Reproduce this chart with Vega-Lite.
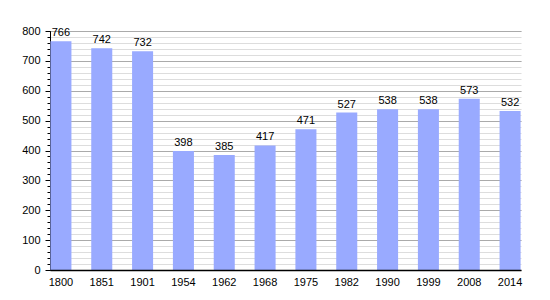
{
  "$schema": "https://vega.github.io/schema/vega-lite/v6.json",
  "width": 471,
  "height": 239,
  "autosize": "none",
  "padding": {"left": 50, "top": 31, "right": 29, "bottom": 30},
  "background": "white",
  "config": {
    "view": {"stroke": null},
    "font": "Liberation Sans",
    "axis": {"labelFont": "Liberation Sans", "labelFontSize": 11, "labelColor": "black"}
  },
  "data": {
    "values": [
      {"year": "1800", "pop": 766},
      {"year": "1851", "pop": 742},
      {"year": "1901", "pop": 732},
      {"year": "1954", "pop": 398},
      {"year": "1962", "pop": 385},
      {"year": "1968", "pop": 417},
      {"year": "1975", "pop": 471},
      {"year": "1982", "pop": 527},
      {"year": "1990", "pop": 538},
      {"year": "1999", "pop": 538},
      {"year": "2008", "pop": 573},
      {"year": "2014", "pop": 532}
    ]
  },
  "encoding": {
    "x": {
      "field": "year", "type": "ordinal", "title": null,
      "scale": {"paddingInner": 0.485, "paddingOuter": 0.01},
      "axis": {"labelAngle": 0, "ticks": false, "domainColor": "black", "domainWidth": 1.5, "labelPadding": 6, "grid": false, "zindex": 2}
    }
  },
  "layer": [
    {
      "mark": {"type": "bar", "color": "#99aaff"},
      "encoding": {
        "y": {
          "field": "pop", "type": "quantitative", "title": null,
          "scale": {"domain": [0, 800], "nice": false},
          "axis": {
            "values": [0,20,40,60,80,100,120,140,160,180,200,220,240,260,280,300,320,340,360,380,400,420,440,460,480,500,520,540,560,580,600,620,640,660,680,700,720,740,760,780,800],
            "labels": false, "domain": false, "grid": true, "gridColor": "#dddddd", "gridWidth": 1,
            "tickSize": 3, "tickColor": "black", "orient": "left"
          }
        }
      }
    },
    {
      "mark": {"type": "text", "baseline": "bottom", "dy": -3, "fontSize": 11, "font": "Liberation Sans", "color": "black"},
      "encoding": {
        "y": {
          "field": "pop", "type": "quantitative", "title": null,
          "scale": {"domain": [0, 800], "nice": false},
          "axis": {
            "values": [0,100,200,300,400,500,600,700,800],
            "grid": true, "gridColor": "#aaaaaa", "domainColor": "black",
            "tickSize": 5, "tickColor": "black", "orient": "left", "labelPadding": 5
          }
        },
        "text": {"field": "pop", "type": "quantitative"}
      }
    }
  ],
  "resolve": {"axis": {"y": "independent"}}
}
